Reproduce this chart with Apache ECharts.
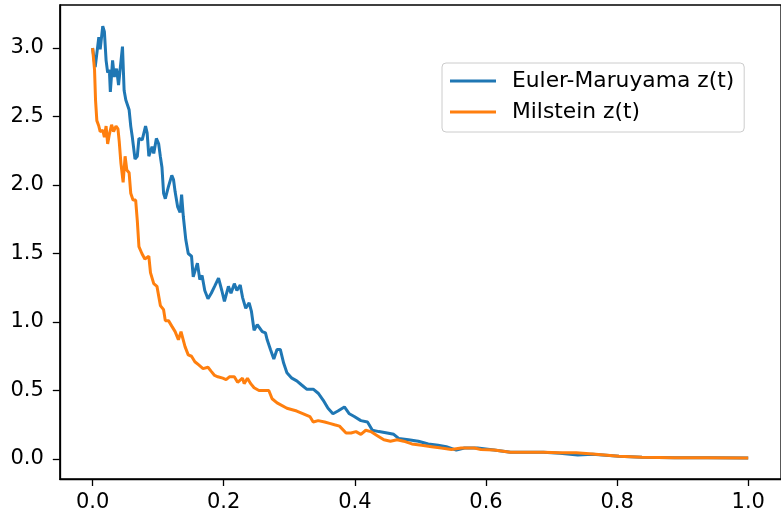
<!DOCTYPE html>
<html>
<head>
<meta charset="utf-8">
<script src="https://cdn.jsdelivr.net/npm/echarts@6/dist/echarts.min.js"></script>
<style>
html,body{margin:0;padding:0;background:#fff;}
#chart{width:781px;height:518px;}
</style>
</head>
<body>
<div id="chart"></div>
<script>
const xTicks = [0.0, 0.2, 0.4, 0.6, 0.8, 1.0];
const yTicks = [0.0, 0.5, 1.0, 1.5, 2.0, 2.5, 3.0];
const seriesNames = ['Euler-Maruyama z(t)', 'Milstein z(t)'];

const eulerT = [0.0,0.004,0.0095,0.0116,0.0155,0.018,0.0206,0.023,0.0256,0.0271,0.0305,0.0331,0.0366,0.0396,0.0421,0.0456,0.0481,0.0507,0.0557,0.0582,0.0606,0.0647,0.0682,0.0707,0.0757,0.0808,0.0832,0.0858,0.0907,0.0933,0.0973,0.1008,0.1033,0.1058,0.1083,0.1109,0.1158,0.1208,0.1234,0.1259,0.1298,0.1334,0.1358,0.1384,0.1422,0.1459,0.1509,0.1535,0.1599,0.1635,0.167,0.1711,0.176,0.181,0.1861,0.1921,0.1971,0.2011,0.2072,0.2111,0.2162,0.2201,0.2252,0.2287,0.2336,0.2388,0.2422,0.2463,0.2512,0.2588,0.2637,0.2663,0.2713,0.2764,0.2813,0.2863,0.2914,0.2964,0.3039,0.3114,0.3189,0.3265,0.3365,0.3441,0.3516,0.3591,0.3666,0.3742,0.3841,0.3916,0.3991,0.4092,0.4193,0.4268,0.4367,0.4494,0.4593,0.4668,0.4819,0.4969,0.512,0.527,0.5396,0.5547,0.5672,0.5872,0.6123,0.6374,0.6624,0.6875,0.7127,0.74,0.7627,0.8029,0.838,0.888,0.939,1.0];
const eulerZ = [3.0,2.86,3.08,2.99,3.16,3.12,2.91,2.82,2.84,2.68,2.91,2.79,2.85,2.73,2.72,3.01,2.69,2.62,2.55,2.43,2.35,2.19,2.21,2.34,2.33,2.43,2.38,2.21,2.28,2.23,2.34,2.30,2.21,2.13,1.94,1.90,1.99,2.07,2.04,1.95,1.84,1.80,1.93,1.77,1.60,1.50,1.48,1.33,1.43,1.31,1.34,1.23,1.17,1.21,1.26,1.32,1.23,1.15,1.26,1.21,1.28,1.23,1.27,1.18,1.10,1.14,1.08,0.94,0.98,0.93,0.92,0.87,0.80,0.73,0.80,0.80,0.70,0.63,0.59,0.57,0.54,0.51,0.51,0.48,0.43,0.37,0.33,0.35,0.38,0.33,0.31,0.28,0.27,0.21,0.20,0.19,0.18,0.15,0.14,0.13,0.11,0.10,0.09,0.065,0.08,0.08,0.065,0.05,0.05,0.05,0.042,0.03,0.035,0.02,0.013,0.01,0.009,0.007];

const milsteinT = [0.0,0.003,0.0045,0.0065,0.0095,0.0116,0.0155,0.018,0.0206,0.023,0.0256,0.029,0.032,0.0357,0.0387,0.0406,0.0432,0.0466,0.0496,0.0522,0.0557,0.0582,0.0617,0.0657,0.0682,0.0707,0.0752,0.0797,0.0858,0.0883,0.0933,0.0982,0.1034,0.1083,0.1109,0.1158,0.1208,0.1259,0.1309,0.1349,0.141,0.1459,0.1509,0.156,0.161,0.1685,0.176,0.181,0.1861,0.1911,0.1986,0.2036,0.2087,0.2162,0.2212,0.2287,0.2312,0.2362,0.2412,0.2463,0.2538,0.2613,0.2688,0.2738,0.2814,0.2964,0.3114,0.3215,0.3314,0.3365,0.3441,0.354,0.3615,0.369,0.3766,0.3866,0.3942,0.4017,0.4092,0.4167,0.4243,0.4343,0.4443,0.4543,0.4644,0.4744,0.487,0.502,0.5171,0.5321,0.5472,0.5622,0.5822,0.5923,0.6123,0.6374,0.6624,0.6875,0.7127,0.7376,0.7627,0.8029,0.838,0.8881,0.9383,1.0];
const milsteinZ = [3.0,2.84,2.62,2.47,2.43,2.39,2.40,2.35,2.43,2.30,2.37,2.44,2.39,2.43,2.41,2.32,2.16,2.02,2.21,2.11,2.09,1.94,1.89,1.89,1.74,1.55,1.50,1.46,1.48,1.36,1.28,1.26,1.12,1.09,1.01,1.01,0.97,0.93,0.87,0.93,0.82,0.76,0.75,0.71,0.69,0.66,0.67,0.64,0.61,0.60,0.59,0.58,0.60,0.60,0.56,0.59,0.55,0.59,0.55,0.52,0.50,0.50,0.50,0.44,0.41,0.37,0.35,0.33,0.31,0.27,0.28,0.27,0.26,0.25,0.24,0.19,0.19,0.20,0.18,0.21,0.20,0.17,0.14,0.13,0.14,0.13,0.11,0.10,0.09,0.08,0.07,0.08,0.08,0.07,0.065,0.05,0.05,0.05,0.046,0.046,0.036,0.02,0.012,0.01,0.01,0.007];

const pairs = (xs, ys) => xs.map((x, i) => [x, ys[i]]);
const FONT = 'DejaVu Sans';
const axisCommon = {
  type: 'value',
  axisLine: {show: true, onZero: false, lineStyle: {color: '#000', width: 1.3}},
  axisTick: {show: true, inside: false, length: 7, lineStyle: {color: '#000', width: 1.3}},
  splitLine: {show: false},
  axisLabel: {color: '#000', fontFamily: FONT, fontSize: 21, margin: 13, formatter: v => v.toFixed(1)}
};

const chart = echarts.init(document.getElementById('chart'), null, {renderer: 'canvas'});
chart.setOption({
  animation: false,
  backgroundColor: '#fff',
  grid: {left: 59.8, top: 5, width: 731.4, height: 474, show: true, borderColor: '#000', borderWidth: 1.3, backgroundColor: 'transparent'},
  xAxis: Object.assign({}, axisCommon, {
    min: -0.05, max: 1.05,
    axisTick: Object.assign({}, axisCommon.axisTick, {customValues: xTicks}),
    axisLabel: Object.assign({}, axisCommon.axisLabel, {customValues: xTicks})
  }),
  yAxis: Object.assign({}, axisCommon, {
    min: -0.146, max: 3.314,
    axisTick: Object.assign({}, axisCommon.axisTick, {customValues: yTicks}),
    axisLabel: Object.assign({}, axisCommon.axisLabel, {customValues: yTicks, margin: 16})
  }),
  legend: {
    left: 442, top: 63,
    orient: 'vertical',
    icon: 'rect',
    itemWidth: 46, itemHeight: 3,
    itemGap: 7,
    padding: [6, 10, 8, 8],
    backgroundColor: 'rgba(255,255,255,0.8)',
    borderColor: '#cccccc', borderWidth: 1, borderRadius: 4,
    textStyle: {color: '#000', fontFamily: FONT, fontSize: 21.8, lineHeight: 24, padding: [0, 0, 0, 11]},
    data: seriesNames
  },
  series: [
    {name: seriesNames[0], type: 'line', showSymbol: false, symbol: 'none', color: '#1f77b4',
     lineStyle: {width: 3, color: '#1f77b4'}, data: pairs(eulerT, eulerZ), z: 2},
    {name: seriesNames[1], type: 'line', showSymbol: false, symbol: 'none', color: '#ff7f0e',
     lineStyle: {width: 3, color: '#ff7f0e'}, data: pairs(milsteinT, milsteinZ), z: 3}
  ]
});
</script>
</body>
</html>
